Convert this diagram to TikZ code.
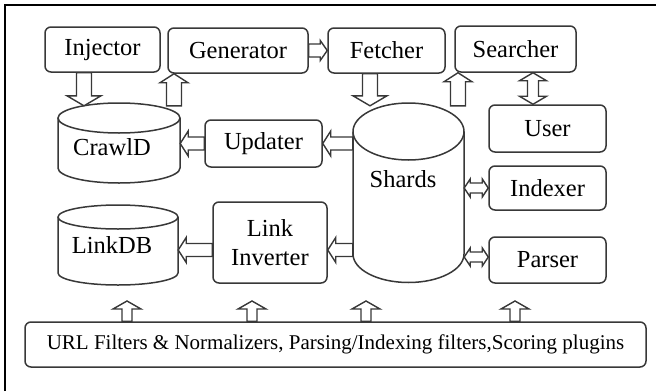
\documentclass[tikz,border=0pt]{standalone}
\usepackage{fontspec}
\setmainfont{Liberation Serif}
\newfontfamily\diagfont{Liberation Serif}
\usetikzlibrary{calc}

% hollow block arrow: shaft half width, head half width, head length, from, to
\newcommand{\fatarrow}[5]{%
  \draw[arrowline] let \p1=(#4), \p2=(#5), \n1={atan2(\y2-\y1,\x2-\x1)}, \n2={veclen(\x2-\x1,\y2-\y1)} in
    ($(\p1)+(\n1+90:#1)$) -- ($(\p1)+(\n1:\n2*1pt-#3)+(\n1+90:#1)$)
    -- ($(\p1)+(\n1:\n2*1pt-#3)+(\n1+90:#2)$) -- (\p2)
    -- ($(\p1)+(\n1:\n2*1pt-#3)+(\n1-90:#2)$) -- ($(\p1)+(\n1:\n2*1pt-#3)+(\n1-90:#1)$)
    -- ($(\p1)+(\n1-90:#1)$) -- cycle;}
% same, with a head at both ends
\newcommand{\fatdarrow}[5]{%
  \draw[arrowline] let \p1=(#4), \p2=(#5), \n1={atan2(\y2-\y1,\x2-\x1)}, \n2={veclen(\x2-\x1,\y2-\y1)} in
    (\p1) -- ($(\p1)+(\n1:#3)+(\n1+90:#2)$) -- ($(\p1)+(\n1:#3)+(\n1+90:#1)$)
    -- ($(\p1)+(\n1:\n2*1pt-#3)+(\n1+90:#1)$) -- ($(\p1)+(\n1:\n2*1pt-#3)+(\n1+90:#2)$) -- (\p2)
    -- ($(\p1)+(\n1:\n2*1pt-#3)+(\n1-90:#2)$) -- ($(\p1)+(\n1:\n2*1pt-#3)+(\n1-90:#1)$)
    -- ($(\p1)+(\n1:#3)+(\n1-90:#1)$) -- ($(\p1)+(\n1:#3)+(\n1-90:#2)$) -- cycle;}

\begin{document}
\begin{tikzpicture}[
  x = 1pt, y = -1pt,
  font = \diagfont\fontsize{24.5}{29}\selectfont,
  line/.style = {draw = black!78, line width = 1.5pt},
  box/.style = {line, rounded corners = 6pt, inner sep = 0pt, align = center},
  db/.style = {inner sep = 0pt},
  arrowline/.style = {line, fill = white, line width = 1.4pt, line join = miter}
  ]
  \useasboundingbox (0,0) rectangle (656,391);
  \fill[white] (0,0) rectangle (656,391);
  \draw[black, line width = 2pt] (5,391) -- (5,5) -- (656,5);

  % boxes
  \node[box, minimum width = 115pt, minimum height = 45pt] (injector) at (102.5,49.5) {Injector};
  \node[box, minimum width = 140pt, minimum height = 45pt] (generator) at (238,50.5) {Generator};
  \node[box, minimum width = 117pt, minimum height = 45pt] (fetcher) at (386.5,50.5) {Fetcher};
  \node[box, minimum width = 121pt, minimum height = 46pt] (searcher) at (515.5,49) {Searcher};
  \node[box, minimum width = 117pt, minimum height = 47pt] (user) at (547.5,128.5) {User};
  \node[box, minimum width = 117pt, minimum height = 44pt] (indexer) at (547.5,188) {Indexer};
  \node[box, minimum width = 117pt, minimum height = 46pt] (parser) at (547.5,260) {Parser};
  \node[box, minimum width = 117pt, minimum height = 47pt] (updater) at (263.5,143.5) {Updater};
  \node[box, minimum width = 114pt, minimum height = 81pt] (linkinv) at (270,242.5) {Link\\Inverter};
  \node[box, minimum width = 621pt, minimum height = 45pt, font = \diagfont\fontsize{21}{24}\selectfont]
    (filters) at (335.5,344.5) {URL Filters \& Normalizers, Parsing/Indexing filters,Scoring plugins};

  % databases
  \draw[line] (58,118) -- (58,168) arc[start angle = 180, end angle = 0, x radius = 61, y radius = 15] -- (180,118);
  \draw[line] (119,118) ellipse[x radius = 61, y radius = 15];
  \node[db, minimum width = 122pt, minimum height = 77pt] (crawl) at (119,144.5) {};
  \node (crawllabel) at (112,147) {CrawlD};

  \draw[line] (353,131.5) -- (353,254) arc[start angle = 180, end angle = 0, x radius = 55.5, y radius = 28.5] -- (464,131.5);
  \draw[line] (408.5,131.5) ellipse[x radius = 55.5, y radius = 28.5];
  \node[db, minimum width = 111pt, minimum height = 177pt] (shards) at (408.5,194.5) {};
  \node (shardslabel) at (403,179) {Shards};

  \draw[line] (58,217) -- (58,273) arc[start angle = 180, end angle = 0, x radius = 60, y radius = 12] -- (178,217);
  \draw[line] (118,217) ellipse[x radius = 60, y radius = 12];
  \node[db, minimum width = 120pt, minimum height = 80pt] (linkdb) at (118,245) {};
  \node (linkdblabel) at (112,245) {LinkDB};

  % arrows
  \fatarrow{7.5pt}{17pt}{10pt}{injector.south -| 84,0}{crawl.north -| 84,0}
  \fatarrow{7.5pt}{14pt}{9pt}{crawl.north -| 174,0}{generator.south -| 174,0}
  \fatarrow{6.5pt}{10pt}{7pt}{generator.east}{fetcher.west}
  \fatarrow{7.5pt}{17pt}{10pt}{fetcher.south -| 370,0}{shards.north -| 370,0}
  \fatarrow{7.5pt}{14pt}{9pt}{shards.north -| 458,0}{searcher.south -| 458,0}
  \fatdarrow{5.5pt}{13.5pt}{8pt}{searcher.south -| 533,0}{user.north -| 533,0}
  \fatarrow{6.5pt}{12.5pt}{8pt}{updater.west}{crawl.east |- updater.west}
  \fatarrow{6.5pt}{12.5pt}{8pt}{shards.west |- updater.east}{updater.east}
  \fatarrow{6.5pt}{12.5pt}{8pt}{shards.west |- 0,250}{linkinv.east |- 0,250}
  \fatarrow{6.5pt}{12.5pt}{8pt}{linkinv.west |- 0,250}{linkdb.east |- 0,250}
  \fatdarrow{5pt}{9pt}{6pt}{shards.east |- indexer.west}{indexer.west}
  \fatdarrow{5pt}{9pt}{6pt}{shards.east |- 0,257}{parser.west |- 0,257}

  \coordinate (up1) at (127,301);
  \coordinate (up2) at (252,301);
  \coordinate (up3) at (366,301);
  \coordinate (up4) at (515,301);
  \fatarrow{5pt}{14pt}{8pt}{filters.north -| up1}{up1}
  \fatarrow{5pt}{14pt}{8pt}{filters.north -| up2}{up2}
  \fatarrow{5pt}{14pt}{8pt}{filters.north -| up3}{up3}
  \fatarrow{5pt}{14pt}{8pt}{filters.north -| up4}{up4}
\end{tikzpicture}
\end{document}
